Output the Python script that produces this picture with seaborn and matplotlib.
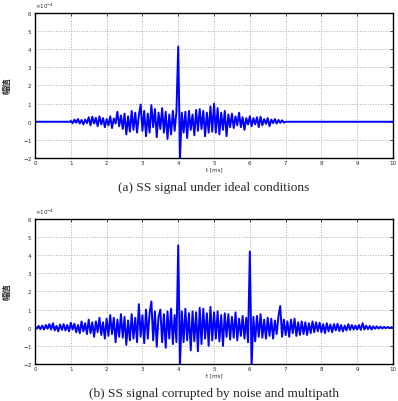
import numpy as np
import pandas as pd
import matplotlib
matplotlib.use("Agg")
import matplotlib.pyplot as plt
import seaborn as sns
from matplotlib.ticker import ScalarFormatter

# ---- data (amplitude in units of 1e-4, time in ms) ----
scale = 1e-4
t_step = 0.05

ideal_start = 1.0
ideal_vals = [
    0.05, -0.08, 0.12, -0.05, 0.15, -0.1, 0.1, -0.15, 0.12, -0.08,
    0.25, -0.2, 0.28, -0.1, 0.22, -0.25, 0.3, -0.15, 0.2, -0.3,
    0.15, -0.2, 0.3, -0.35, 0.18, -0.1, 0.55, -0.25, 0.35, -0.4,
    0.45, -0.7, 0.3, -0.55, 0.6, -0.45, 0.5, -0.6, 0.35, 0.95,
    -0.5, 0.6, -0.8, 0.45, -0.6, 0.92, -0.3, 0.7, -0.85, 0.5,
    -0.4, 0.75, -0.6, 0.55, -0.95, 0.4, -0.7, 0.6, -0.5, 0.55,
    4.15, -2.0, 0.5, -0.6, 0.55, -0.9, 0.6, -0.45, 0.4, -0.75,
    0.65, -0.5, 0.7, -0.4, 0.6, -0.8, 0.5, -0.6, 0.85, -0.55,
    1.0, -0.6, 0.75, -0.7, 0.5, -0.45, 0.6, -0.8, 0.4, -0.3,
    0.45, -0.35, 0.3, -0.2, 0.5, -0.3, 0.25, -0.45, 0.2, -0.15,
    0.3, -0.25, 0.2, -0.15, 0.25, -0.3, 0.28, -0.2, 0.15, -0.12,
    0.2, -0.25, 0.12, -0.08, 0.15, -0.1, 0.1, -0.06, 0.08, -0.05,
    0.0,
]

noisy_start = 0.0
noisy_vals = [
    0.05, -0.05, 0.1, -0.08, 0.12, -0.1, 0.15, -0.05, 0.2, -0.1,
    0.25, -0.15, 0.1, -0.2, 0.18, -0.12, 0.2, -0.15, 0.15, -0.2,
    0.28, -0.1, 0.22, -0.25, 0.15, -0.3, 0.35, -0.2, 0.25, -0.35,
    0.45, -0.3, 0.3, -0.5, 0.35, -0.25, 0.55, -0.4, 0.3, -0.6,
    0.5, -0.45, 0.7, -0.35, 0.55, -0.8, 0.45, -0.5, 0.75, -0.55,
    0.6, -0.95, 0.4, -0.7, 0.75, -0.6, 0.55, -0.8, 1.3, -0.5,
    0.7, -0.85, 1.0, -0.6, 0.8, 1.45, -0.7, 0.9, -1.05, 0.6,
    1.0, -0.8, 0.75, -1.1, 0.9, -0.6, 1.05, -0.9, 0.7, -0.8,
    4.55, -2.05, 0.9, -0.8, 1.05, -0.7, 0.8, -1.25, 0.9, -0.75,
    0.85, -1.3, 1.1, -0.9, 1.05, -0.6, 0.8, -1.0, 1.15, -0.7,
    0.85, -0.6, 0.9, -0.75, 0.7, -1.0, 0.8, -0.5, 0.75, -0.65,
    0.6, -0.55, 0.85, -0.7, 0.5, -0.45, 0.65, -0.6, 0.55, -0.8,
    4.2, -2.1, 0.6, -0.75, 0.65, -0.5, 0.75, -0.55, 0.45, -0.6,
    0.55, -0.45, 0.5, -0.6, 0.4, -0.35, 0.65, 1.2, -0.5, 0.45,
    -0.4, 0.35, -0.5, 0.45, -0.3, 0.5, -0.45, 0.3, -0.4, 0.35,
    -0.35, 0.3, -0.4, 0.25, -0.3, 0.35, -0.25, 0.3, -0.2, 0.28,
    -0.25, 0.2, -0.3, 0.25, -0.2, 0.18, -0.25, 0.2, -0.15, 0.22,
    -0.18, 0.15, -0.2, 0.12, -0.15, 0.2, -0.12, 0.15, -0.1, 0.12,
    -0.1, 0.15, -0.12, 0.25, -0.1, 0.12, -0.08, 0.1, -0.1, 0.08,
    -0.06, 0.08, -0.05, 0.06, -0.04, 0.05, -0.03, 0.04, -0.02, 0.03,
    0.0,
]

x_ticks = [0, 1, 2, 3, 4, 5, 6, 7, 8, 9, 10]
y_ticks = [-2, -1, 0, 1, 2, 3, 4, 5, 6]
captions = ["(a) SS signal under ideal conditions",
            "(b) SS signal corrupted by noise and multipath"]
xlabel = "t [ms]"
ylabel = "幅值"


def make_df(start, vals, pad_start=None, pad_end=None):
    t = [round(start + i * t_step, 4) for i in range(len(vals))]
    v = list(vals)
    if pad_start is not None:
        t = [pad_start, start] + t
        v = [0.0, 0.0] + v
    if pad_end is not None:
        t = t + [pad_end]
        v = v + [0.0]
    return pd.DataFrame({"t": t, "amp": np.array(v) * scale})


df_a = make_df(ideal_start, ideal_vals, pad_start=0.0, pad_end=10.0)
df_b = make_df(noisy_start, noisy_vals)

sns.set_style("white")
plt.rcParams["font.family"] = ["DejaVu Sans", "Noto Sans CJK SC"]

fig = plt.figure(figsize=(3.98, 4.01), dpi=100)
axes = [fig.add_axes([0.088, 0.606, 0.8995, 0.3616]),
        fig.add_axes([0.088, 0.0923, 0.8995, 0.3616])]

for ax, df, cap in zip(axes, [df_a, df_b], captions):
    sns.lineplot(data=df, x="t", y="amp", ax=ax, estimator=None, sort=False,
                 color="#0000ff", linewidth=1.4)
    ax.set_xlim(0, 10)
    ax.set_ylim(-2 * scale, 6 * scale)
    ax.set_xticks(x_ticks)
    ax.set_yticks([v * scale for v in y_ticks])
    fmt = ScalarFormatter(useMathText=True)
    fmt.set_powerlimits((-3, 3))
    ax.yaxis.set_major_formatter(fmt)
    ax.yaxis.get_offset_text().set_fontsize(4)
    ax.grid(True, linestyle=":", color="#aaaaaa", linewidth=0.7)
    ax.tick_params(axis="both", which="both", direction="in", length=2,
                   labelsize=4, top=True, right=True, pad=2, width=0.6)
    for sp in ax.spines.values():
        sp.set_linewidth(1.0)
        sp.set_color("black")
    ax.set_xlabel(xlabel, fontsize=4, labelpad=1)
    ax.set_ylabel(ylabel, fontsize=6, labelpad=8, fontweight="bold",
                  family=["Noto Sans CJK SC", "DejaVu Sans"])
    ax.text(0.5, -0.165, cap, transform=ax.transAxes, ha="center", va="top",
            fontsize=9.6, family=["Liberation Serif", "DejaVu Serif"])

fig.savefig("out.png", dpi=100)
